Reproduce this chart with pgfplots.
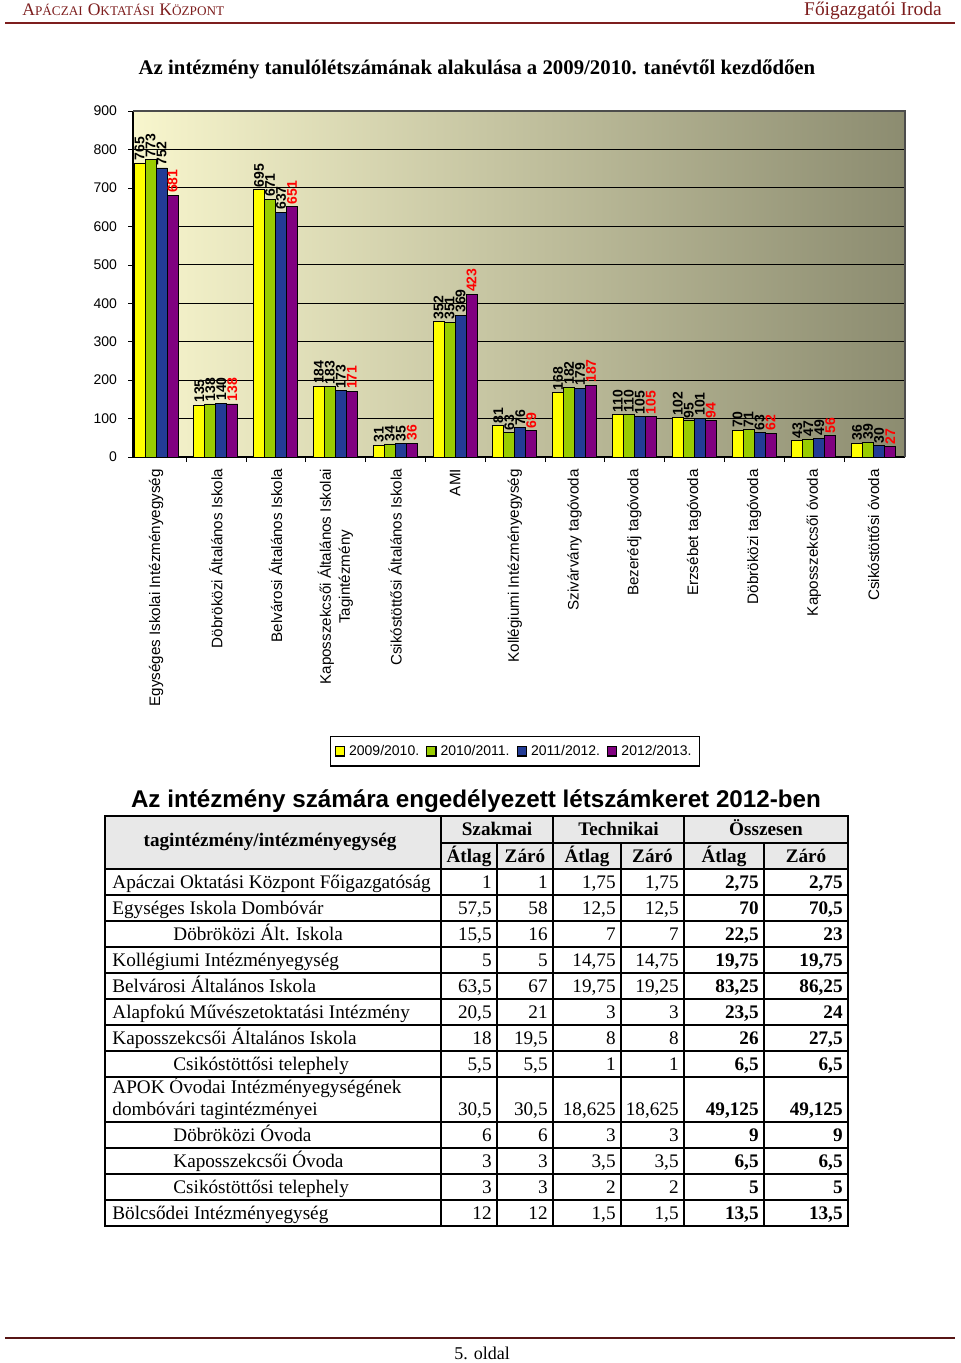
\documentclass[border=0pt]{standalone}
\usepackage{pgfplots}
\pgfplotsset{compat=1.18}
\usepackage{fontspec}
\setmainfont{Liberation Serif}
\newfontfamily\arial{Liberation Sans}
\definecolor{hdrred}{RGB}{125,30,30}
\definecolor{bY}{RGB}{255,255,0}
\definecolor{bG}{RGB}{153,204,0}
\definecolor{bB}{RGB}{35,60,150}
\definecolor{bBl}{RGB}{70,120,225}
\definecolor{bP}{RGB}{128,0,128}
\definecolor{bgL}{RGB}{248,246,205}
\definecolor{bgR}{RGB}{140,140,112}

% small caps by hand
\newcommand{\fsc}[2]{{\fontsize{8.8}{11}\selectfont #1}{\fontsize{6.6}{8}\selectfont #2}}
% one table row: baseline y, label x, label, six numbers
\newcommand{\trow}[9]{%
  \node[anchor=base west] at (#2,#1) {#3};
  \node[anchor=base east] at (492,#1) {#4};
  \node[anchor=base east] at (548,#1) {#5};
  \node[anchor=base east] at (616,#1) {#6};
  \node[anchor=base east] at (679,#1) {#7};
  \node[anchor=base east] at (759,#1) {\bfseries #8};
  \node[anchor=base east] at (843,#1) {\bfseries #9};}

\pgfplotsset{sq legend/.style={legend image code/.code={%
  \draw[##1,draw=black] (0pt,-2.3pt) rectangle (4.6pt,2.3pt);}}}

\begin{document}
\begin{tikzpicture}
\useasboundingbox (0pt,0pt) rectangle (480pt,-681.5pt);

\begin{axis}[
  at={(66.5pt,-228.5pt)}, anchor=south west,
  scale only axis, width=386pt, height=173pt,
  ybar=0pt, bar width=5.5pt,
  xmin=-0.385, xmax=12.525, ymin=0, ymax=900,
  ytick={0,100,...,900},
  xtick={0,...,12},
  xticklabels={Egységes Iskolai Intézményegység, Döbröközi Általános Iskola,
    Belvárosi Általános Iskola, {Kaposszekcsői Általános Iskolai\\Tagintézmény},
    Csikóstöttősi Általános Iskola, AMI, Kollégiumi Intézményegység,
    Szivárvány tagóvoda, Bezerédj tagóvoda, Erzsébet tagóvoda,
    Döbröközi tagóvoda, Kaposszekcsői óvoda, Csikóstöttősi óvoda},
  minor xtick={0.5,1.5,...,11.5},
  major x tick style={draw=none},
  minor x tick style={black},
  ytick style={black},
  tick align=outside, major tick length=2.5pt, minor tick length=2.5pt,
  axis x line*=bottom, axis y line*=left,
  axis line style={black,-, line width=0.6pt},
  ymajorgrids, grid style={black, line width=0.6pt},
  axis background/.style={left color=bgL, right color=bgR},
  tick label style={font=\arial\fontsize{7}{8}\selectfont},
  /pgf/number format/assume math mode=true,
  yticklabel style={xshift=-2pt},
  xticklabel style={rotate=90, anchor=east, align=center,
    font=\arial\fontsize{7.6}{9.5}\selectfont},
  nodes near coords,
  nodes near coords style={rotate=90, anchor=west, inner sep=1pt,
    font=\arial\bfseries\fontsize{7}{7}\selectfont},
  legend style={at={(0.495,-0.851)}, anchor=center, legend columns=4,
    draw=black, line width=0.6pt, inner sep=2pt,
    font=\arial\fontsize{7}{8}\selectfont,
    /tikz/every even column/.append style={column sep=1.5pt}},
  clip=false,
]
\addplot[draw=black, fill=bY, sq legend] coordinates {
  (0,765) (1,135) (2,695) (3,184) (4,31) (5,352) (6,81)
  (7,168) (8,110) (9,102) (10,70) (11,43) (12,36)};
\addplot[draw=black, fill=bG, sq legend] coordinates {
  (0,773) (1,138) (2,671) (3,183) (4,34) (5,351) (6,63)
  (7,182) (8,110) (9,95) (10,71) (11,47) (12,39)};
\addplot[draw=black, left color=bB, middle color=bBl, right color=bB, sq legend] coordinates {
  (0,752) (1,140) (2,637) (3,173) (4,35) (5,369) (6,76)
  (7,179) (8,105) (9,101) (10,63) (11,49) (12,30)};
\addplot[draw=black, fill=bP, sq legend,
  every node near coord/.append style={text=red}] coordinates {
  (0,681) (1,138) (2,651) (3,171) (4,36) (5,423) (6,69)
  (7,187) (8,105) (9,94) (10,62) (11,56) (12,27)};
\legend{2009/2010., 2010/2011., 2011/2012., 2012/2013.}
\draw[gray!60!black, line width=0.6pt] (rel axis cs:0,1) -- (rel axis cs:1,1) -- (rel axis cs:1,0);
\end{axis}

\begin{scope}[x=0.5pt, y=-0.5pt, every node/.style={inner sep=0pt}]
% page header
\node[anchor=base west, text=hdrred] at (22,16)
  {\fsc{A}{PÁCZAI} \fsc{O}{KTATÁSI} \fsc{K}{ÖZPONT}};
\node[anchor=base east, text=hdrred, font=\fontsize{9.7}{12}\selectfont] at (942,16)
  {Főigazgatói Iroda};
\draw[hdrred, line width=1.3pt] (5,23) -- (955,23);

% chart title
\node[font=\bfseries\fontsize{10.4}{12}\selectfont] at (477,69)
  {Az intézmény tanulólétszámának alakulása a 2009/2010. tanévtől kezdődően};

% table title
\node[font=\arial\bfseries\fontsize{12.1}{14}\selectfont] at (476,801)
  {Az intézmény számára engedélyezett létszámkeret 2012-ben};

% table
\fill[gray!18] (105,816) rectangle (848,869);
\begin{scope}[line width=0.6pt]
\draw (441,843) -- (848,843);
\foreach \yy in {869,895,921,947,973,999,1025,1051,1077,1122,1148,1174,1200}
  \draw (105,\yy) -- (848,\yy);
\foreach \xx in {441,553,684} \draw (\xx,816) -- (\xx,1226);
\foreach \xx in {497,621,764} \draw (\xx,843) -- (\xx,1226);
\end{scope}
\draw[line width=1.2pt] (105,816) rectangle (848,1226);

\begin{scope}[font=\fontsize{9.6}{11}\selectfont]
\node[font=\bfseries\fontsize{9.6}{11}\selectfont] at (270,842) {tagintézmény/intézményegység};
\foreach \xx/\tt in {497/Szakmai,618.5/Technikai,766/Összesen}
  \node[font=\bfseries\fontsize{9.6}{11}\selectfont, anchor=base] at (\xx,835) {\tt};
\foreach \xx/\tt in {469/Átlag,525/Záró,587/Átlag,652.5/Záró,724/Átlag,806/Záró}
  \node[font=\bfseries\fontsize{9.6}{11}\selectfont, anchor=base] at (\xx,862) {\tt};

\trow{888}{112}{Apáczai Oktatási Központ Főigazgatóság}{1}{1}{1,75}{1,75}{2,75}{2,75}
\trow{914}{112}{Egységes Iskola Dombóvár}{57,5}{58}{12,5}{12,5}{70}{70,5}
\trow{940}{173}{Döbröközi Ált. Iskola}{15,5}{16}{7}{7}{22,5}{23}
\trow{966}{112}{Kollégiumi Intézményegység}{5}{5}{14,75}{14,75}{19,75}{19,75}
\trow{992}{112}{Belvárosi Általános Iskola}{63,5}{67}{19,75}{19,25}{83,25}{86,25}
\trow{1018}{112}{Alapfokú Művészetoktatási Intézmény}{20,5}{21}{3}{3}{23,5}{24}
\trow{1044}{112}{Kaposszekcsői Általános Iskola}{18}{19,5}{8}{8}{26}{27,5}
\trow{1070}{173}{Csikóstöttősi telephely}{5,5}{5,5}{1}{1}{6,5}{6,5}
\node[anchor=base west] at (112,1093) {APOK Óvodai Intézményegységének};
\trow{1115}{112}{dombóvári tagintézményei}{30,5}{30,5}{18,625}{18,625}{49,125}{49,125}
\trow{1141}{173}{Döbröközi Óvoda}{6}{6}{3}{3}{9}{9}
\trow{1167}{173}{Kaposszekcsői Óvoda}{3}{3}{3,5}{3,5}{6,5}{6,5}
\trow{1193}{173}{Csikóstöttősi telephely}{3}{3}{2}{2}{5}{5}
\trow{1219}{112}{Bölcsődei Intézményegység}{12}{12}{1,5}{1,5}{13,5}{13,5}
\end{scope}

% page footer
\draw[hdrred!70!black, line width=0.8pt] (5,1338) -- (955,1338);
\node[font=\fontsize{9}{11}\selectfont, anchor=base] at (482,1359) {5. oldal};
\end{scope}
\end{tikzpicture}
\end{document}
